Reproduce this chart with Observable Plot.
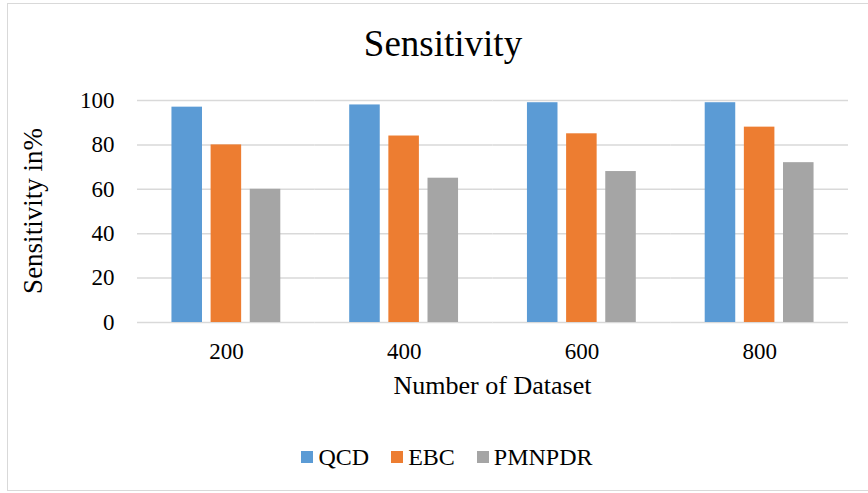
<!DOCTYPE html>
<html>
<head>
<meta charset="utf-8">
<script src="https://cdn.jsdelivr.net/npm/d3@7"></script>
<script src="https://cdn.jsdelivr.net/npm/@observablehq/plot@0.6"></script>
<style>
  html, body { margin: 0; padding: 0; width: 868px; height: 493px; overflow: hidden; background: #fff; }
  #frame { position: absolute; left: 7px; top: 3px; width: 880px; height: 488px; border: 1.5px solid #d9d9d9; border-right: none; box-sizing: border-box; }
  .txt { position: absolute; font-family: "Liberation Serif", "Times New Roman", serif; color: #000; white-space: nowrap; }
  #title { left: 9px; width: 868px; top: 23px; text-align: center; font-size: 37px; line-height: 42px; }
  #xlabel { left: 137px; width: 711px; top: 371px; text-align: center; font-size: 26px; line-height: 30px; }
  #ylabel { left: 33px; top: 211px; font-size: 27px; line-height: 30px; transform: translate(-50%, -50%) rotate(-90deg); }
  #legend { left: 13px; width: 868px; top: 443px; display: flex; justify-content: center; align-items: center; font-size: 24px; line-height: 28px; }
  #legend .item { display: flex; align-items: center; margin: 0 11px; }
  #legend .sw { width: 12px; height: 12px; margin-right: 5px; }
  #chart { position: absolute; left: 0; top: 0; }
  #chart svg { background: transparent; }
</style>
</head>
<body>
<div id="frame"></div>
<div id="chart"></div>
<div id="title" class="txt">Sensitivity</div>
<div id="ylabel" class="txt">Sensitivity in%</div>
<div id="xlabel" class="txt">Number of Dataset</div>
<div id="legend" class="txt"></div>
<script>
const categories = ["200", "400", "600", "800"];
const series = ["QCD", "EBC", "PMNPDR"];
const qcd = [97, 98, 99, 99];
const ebc = [80, 84, 85, 88];
const pmnpdr = [60, 65, 68, 72];
const yTicks = [0, 20, 40, 60, 80, 100];
const colors = ["#5b9bd5", "#ed7d31", "#a5a5a5"];

const valuesBySeries = [qcd, ebc, pmnpdr];
const data = [];
categories.forEach((c, i) => {
  series.forEach((s, j) => {
    data.push({dataset: c, method: s, value: valuesBySeries[j][i]});
  });
});

const chart = Plot.plot({
  width: 868,
  height: 400,
  marginLeft: 137,
  marginRight: 20,
  marginTop: 100,
  marginBottom: 78,
  style: {fontFamily: "'Liberation Serif', 'Times New Roman', serif", fontSize: "23px", color: "#000", background: "transparent", overflow: "visible"},
  fx: {domain: categories, padding: 0, round: false, label: null, tickSize: 0, tickPadding: 20},
  x: {domain: series, axis: null, round: false, paddingInner: 0.22, paddingOuter: 0.88},
  y: {domain: [0, 100], ticks: yTicks, tickSize: 0, tickPadding: 23, label: null},
  color: {domain: series, range: colors},
  marks: [
    Plot.ruleY(yTicks, {stroke: "#d9d9d9", strokeWidth: 1.5}),
    Plot.barY(data, {fx: "dataset", x: "method", y: "value", fill: "method"})
  ]
});
document.getElementById("chart").appendChild(chart);

const legend = document.getElementById("legend");
series.forEach((s, j) => {
  const item = document.createElement("div");
  item.className = "item";
  const sw = document.createElement("div");
  sw.className = "sw";
  sw.style.background = colors[j];
  const label = document.createElement("span");
  label.textContent = s;
  item.appendChild(sw);
  item.appendChild(label);
  legend.appendChild(item);
});
</script>
</body>
</html>
